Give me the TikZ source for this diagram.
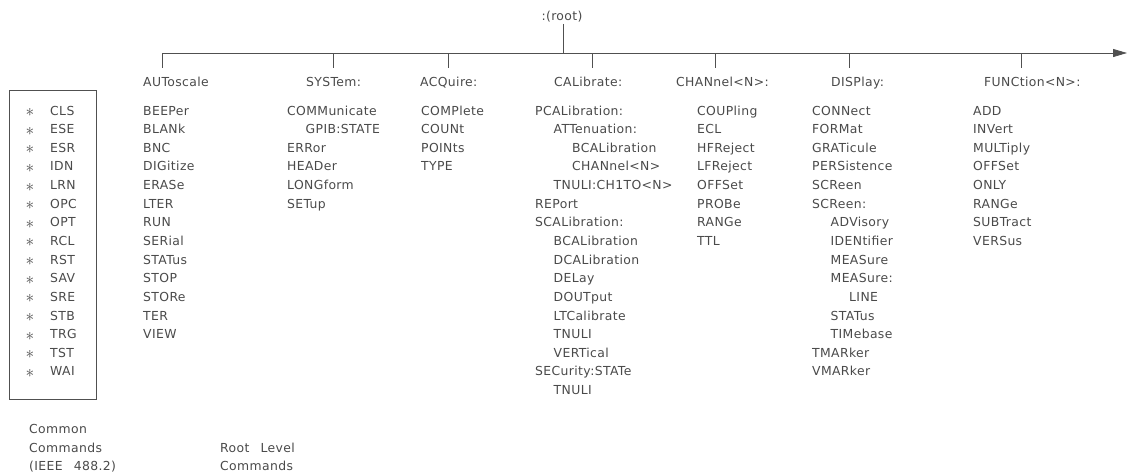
\documentclass[tikz,border=0pt]{standalone}
\usepackage{fontspec}
\setmainfont{DejaVu Sans}[LetterSpace=3]
\usetikzlibrary{arrows.meta}
\definecolor{ink}{HTML}{4A4A4A}
\definecolor{wireink}{HTML}{505050}
\begin{document}
\begin{tikzpicture}[x=1pt,y=-1pt,
  font=\fontsize{12.4}{14}\selectfont,
  every node/.style={inner sep=0pt,text=ink},
  cmd/.style={anchor=base west},
  hdr/.style={anchor=base west},
  wire/.style={draw=wireink,line width=0.8pt},
  frame/.style={draw=wireink,line width=0.8pt,anchor=north west,minimum width=87pt,minimum height=309pt}]
\useasboundingbox (0,0) rectangle (1127,475);
\def\ya{115}\def\dy{18.64}\def\ind{18.5}
% root and bus
\node[anchor=base] (root) at (562,20) {:(root)};
\coordinate (busL) at (162,53);
\coordinate (busR) at (1127,53);
\draw[wire] (root.south) ++(1,2) coordinate (rootb) -- (rootb |- busL);
\draw[wire,-{Triangle[length=14pt,width=8pt]}] (busL) -- (busR);
% headers
\node[hdr] (hAUT) at (143,86) {AUToscale};
\node[hdr] (hSYS) at (306,86) {SYSTem:};
\node[hdr] (hACQ) at (420,86) {ACQuire:};
\node[hdr] (hCAL) at (554,86) {CALibrate:};
\node[hdr] (hCHA) at (676,86) {CHANnel<N>:};
\node[hdr] (hDIS) at (831,86) {DISPlay:};
\node[hdr] (hFUN) at (984,86) {FUNCtion<N>:};
% ticks
\foreach \n/\x in {AUT/162,SYS/333,ACQ/448,CAL/592,CHA/715,DIS/849,FUN/1021}{
  \coordinate (t\n) at (\x,68);
  \draw[wire] (t\n |- busL) -- (t\n);
}
% common commands
\node[frame] (cbox) at (9,90) {};
\foreach \t [count=\i from 0] in {CLS,ESE,ESR,IDN,LRN,OPC,OPT,RCL,RST,SAV,SRE,STB,TRG,TST,WAI}{
  \node[anchor=base] (cs-\i) at (30,{\ya+\i*\dy+1.5}) {\fontsize{17}{17}\selectfont$\ast$};
  \node[cmd] (cc-\i) at (50,{\ya+\i*\dy}) {\t};
}
% AUToscale column
\foreach \t [count=\i from 0] in {BEEPer,BLANk,BNC,DIGitize,ERASe,LTER,RUN,SERial,STATus,STOP,STORe,TER,VIEW}{
  \node[cmd] (aut-\i) at (143,{\ya+\i*\dy}) {\t};
}
% SYSTem
\foreach \k/\t [count=\i from 0] in {0/COMMunicate,1/GPIB:STATE,0/ERRor,0/HEADer,0/LONGform,0/SETup}{
  \node[cmd] (sys-\i) at ({287+\k*\ind},{\ya+\i*\dy}) {\t};
}
% ACQuire
\foreach \t [count=\i from 0] in {COMPlete,COUNt,POINts,TYPE}{
  \node[cmd] (acq-\i) at (421,{\ya+\i*\dy}) {\t};
}
% CALibrate
\foreach \k/\t [count=\i from 0] in {0/PCALibration:,1/ATTenuation:,2/BCALibration,2/CHANnel<N>,1/TNULI:CH1TO<N>,0/REPort,0/SCALibration:,1/BCALibration,1/DCALibration,1/DELay,1/DOUTput,1/LTCalibrate,1/TNULI,1/VERTical,0/SECurity:STATe,1/TNULI}{
  \node[cmd] (cal-\i) at ({535+\k*\ind},{\ya+\i*\dy}) {\t};
}
% CHANnel
\foreach \t [count=\i from 0] in {COUPling,ECL,HFReject,LFReject,OFFSet,PROBe,RANGe,TTL}{
  \node[cmd] (cha-\i) at (697,{\ya+\i*\dy}) {\t};
}
% DISPlay
\foreach \k/\t [count=\i from 0] in {0/CONNect,0/FORMat,0/GRATicule,0/PERSistence,0/SCReen,0/SCReen:,1/ADVisory,1/IDENtifier,1/MEASure,1/MEASure:,2/LINE,1/STATus,1/TIMebase,0/TMARker,0/VMARker}{
  \node[cmd] (dis-\i) at ({812+\k*\ind},{\ya+\i*\dy}) {\t};
}
% FUNCtion
\foreach \t [count=\i from 0] in {ADD,INVert,MULTiply,OFFSet,ONLY,RANGe,SUBTract,VERSus}{
  \node[cmd] (fun-\i) at (973,{\ya+\i*\dy}) {\t};
}
% footers
\node[cmd] (f1) at (29,433.5) {Common};
\node[cmd] (f2) at (29,452) {Commands};
\node[cmd] (f3) at (29,470.5) {(IEEE\hspace{0.9em}488.2)};
\node[cmd] (f4) at (220,452) {Root\hspace{0.9em}Level};
\node[cmd] (f5) at (220,470.5) {Commands};
\end{tikzpicture}
\end{document}
